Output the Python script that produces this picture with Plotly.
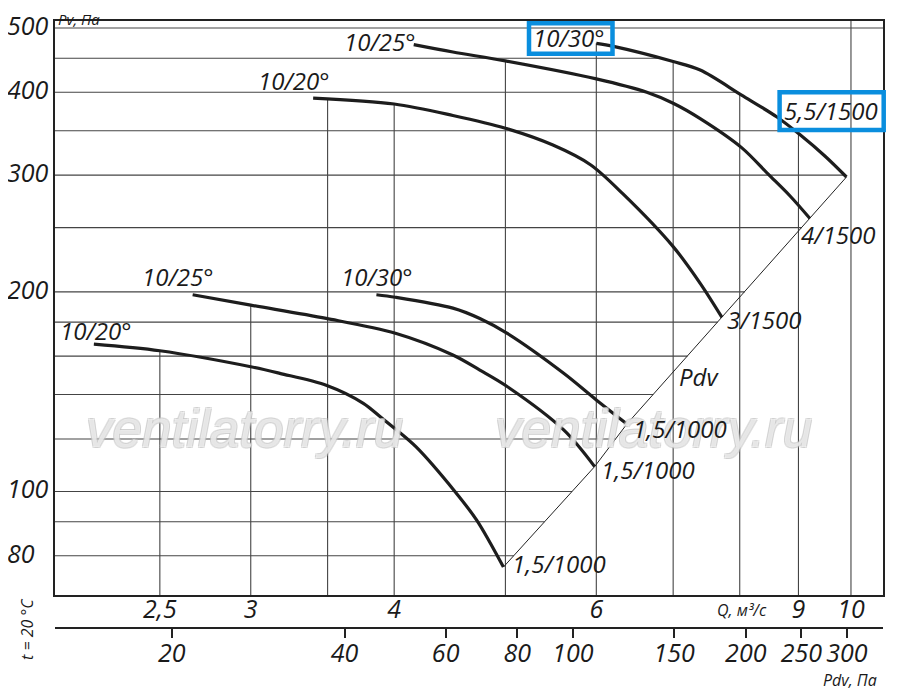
import numpy as np
import plotly.graph_objects as go

# %% Data (Q in m3/s, Pv in Pa)

# upper group, ending on the Pdv line at 3/1500, 4/1500, 5,5/1500
q_20_hi = [3.40, 4.00, 4.50, 5.00, 5.50, 5.93, 6.33, 7.00, 7.39, 7.72]
pv_20_hi = [392, 384, 369, 353, 333, 311, 281, 234, 206, 183]

q_25_hi = [4.16, 4.50, 5.00, 6.00, 6.64, 7.00, 7.39, 8.03, 8.47, 8.85, 9.21]
pv_25_hi = [472, 460, 446, 419, 400, 385, 365, 330, 301, 279, 258]

q_30_hi = [6.00, 6.21, 7.00, 7.39, 8.03, 8.62, 9.03, 9.50, 9.91]
pv_30_hi = [474, 469, 445, 432, 396, 367, 345, 320, 298]

# lower group, all ending on the Pdv line at 1,5/1000
q_20_lo = [2.19, 2.50, 3.00, 3.18, 3.49, 3.76, 3.89, 4.01, 4.18, 4.52, 4.72, 4.98]
pv_20_lo = [166.8, 163, 154.2, 150.7, 144.6, 135.8, 129.6, 124.2, 116.7, 99.9, 90.5, 76.9]

q_25_lo = [2.67, 3.00, 3.49, 4.01, 4.50, 4.75, 5.01, 5.62, 5.98]
pv_25_lo = [198, 191, 182.4, 173.2, 160.6, 152.4, 144.2, 123.8, 109]

q_30_lo = [3.86, 4.01, 4.50, 4.75, 5.01, 5.62, 6.00, 6.38]
pv_30_lo = [198, 196.3, 189, 182.3, 173.4, 150.7, 137.4, 126.4]

# grid and ticks
q_grid = [2.5, 3, 3.5, 4, 5, 6, 7, 8, 9, 10]
pv_grid = [80, 90, 100, 120, 140, 160, 180, 200, 250, 300, 350, 400, 450, 500]
q_ticks = [2.5, 3, 4, 6, 9, 10]
q_ticktext = ["2,5", "3", "4", "6", "9", "10"]
pv_ticks = [80, 100, 200, 300, 400, 500]
pdv_ticks = [20, 40, 60, 80, 100, 150, 200, 250, 300]

# axis ranges (log10)
q_range = [0.3066, 1.0279]
pv_range = [1.8438, 2.7095]
pdv_range = [1.0976, 2.5401]

curves = [(q_20_hi, pv_20_hi), (q_25_hi, pv_25_hi), (q_30_hi, pv_30_hi),
          (q_20_lo, pv_20_lo), (q_25_lo, pv_25_lo), (q_30_lo, pv_30_lo)]

# %% Helpers

# the page puts the figure 8px in from the window corner
OFF = 8
W, H = 900 - OFF, 692 - OFF
L, R, T, B = 55 - OFF, 17, 21 - OFF, 64
PW, PH = W - L - R, H - T - B


def px(x):
    return (x - OFF - L) / PW


def py(y):
    return (H - B - (y - OFF)) / PH


def log_interp(xs, ys, x):
    return 10 ** np.interp(np.log10(x), np.log10(xs), np.log10(ys))


# Pdv line runs through the ends of all curves
ends = sorted((c[0][-1], c[1][-1]) for c in curves)
diag_q = [e[0] for e in ends]
diag_pv = [e[1] for e in ends]


def top_at(q):
    vals = [log_interp(cq, cp, q) for cq, cp in curves if cq[0] <= q <= cq[-1]]
    return max(vals) if vals else 10 ** pv_range[1]


def right_at(p):
    if p > max(pv_30_hi):
        return 10 ** q_range[1]
    if p > diag_pv[-1]:
        return log_interp(pv_30_hi[::-1], q_30_hi[::-1], p)
    return log_interp(diag_pv, diag_q, p)


# %% Figure

fig = go.Figure()

gx, gy = [], []
for q in q_grid:
    gx += [q, q, None]
    gy += [10 ** pv_range[0], top_at(q), None]
for p in pv_grid:
    gx += [10 ** q_range[0], right_at(p), None]
    gy += [p, p, None]
fig.add_trace(go.Scatter(x=gx, y=gy, mode="lines",
                         line=dict(color="#444", width=1.1), hoverinfo="skip"))

fig.add_trace(go.Scatter(x=diag_q, y=diag_pv, mode="lines",
                         line=dict(color="#222", width=1), hoverinfo="skip"))

for cq, cp in curves:
    fig.add_trace(go.Scatter(x=cq, y=cp, mode="lines",
                             line=dict(color="#1d1d1d", width=3.2, shape="spline", smoothing=0.9)))

# keeps the Pdv axis alive
fig.add_trace(go.Scatter(x=pdv_ticks, y=[100] * len(pdv_ticks), xaxis="x2", mode="markers",
                         marker=dict(opacity=0), hoverinfo="skip"))

ital = dict(family="Open Sans", size=25, style="italic", color="#1a1a1a")

fig.update_layout(
    width=W, height=H,
    margin=dict(l=L, r=R, t=T, b=B),
    paper_bgcolor="white", plot_bgcolor="white",
    showlegend=False,
    font=dict(family="Open Sans", color="#1a1a1a"),
    xaxis=dict(type="log", range=q_range, domain=[0, 1], anchor="y",
               showgrid=False, zeroline=False, showline=True, mirror=True,
               linewidth=2, linecolor="#222", ticks="", ticklabelstandoff=-9,
               tickvals=q_ticks, ticktext=q_ticktext, tickfont=ital),
    xaxis2=dict(type="log", range=pdv_range, overlaying="x", anchor="free", position=0,
                side="bottom", showgrid=False, zeroline=False, showline=True,
                linewidth=2, linecolor="#222", ticks="outside", ticklen=9,
                tickwidth=1.5, tickcolor="#222", ticklabelstandoff=-6,
                tickvals=pdv_ticks, ticktext=[str(v) for v in pdv_ticks], tickfont=ital),
    yaxis=dict(type="log", range=pv_range, domain=[33 / PH, 1],
               showgrid=False, zeroline=False, showline=True, mirror=True,
               linewidth=2, linecolor="#222", ticks="", showticklabels=False),
)

ann = []

# watermark first so the labels sit above it
mark = dict(family="Liberation Sans", size=53, style="italic", color="rgba(255,255,255,0.55)",
            shadow="1px 1px 0 #c4c4c4, -1px -1px 0 #c4c4c4, 1px -1px 0 #c4c4c4, -1px 1px 0 #c4c4c4")
for cx in (244, 653):
    ann.append(dict(xref="paper", yref="paper", x=px(cx), y=py(428), text="ventilatorry.ru",
                    showarrow=False, xanchor="center", yanchor="middle", font=mark))

for v in pv_ticks:
    ann.append(dict(xref="paper", yref="y", x=px(5), y=np.log10(v), xanchor="left",
                    yanchor="middle", yshift=3, text=str(v), showarrow=False, font=ital))


def label(text, x, y, size=24, **kw):
    f = dict(ital, size=size)
    d = dict(xref="paper", yref="paper", x=px(x), y=py(y), text=text, showarrow=False,
             xanchor="center", yanchor="middle", font=f)
    d.update(kw)
    ann.append(d)


label("Pv, Па", 57, 19, size=15, xanchor="left", borderpad=0)
label("Q, м³/с", 742, 610, size=16)
label("Pdv, Па", 850, 680, size=16)
label("t = 20 °C", 27, 629, size=16, textangle=-90)

label("10/25°", 380, 42)
label("10/20°", 294, 81)
label("10/30°", 569, 38)
label("5,5/1500", 831, 110)
label("4/1500", 838, 235)
label("3/1500", 764, 319)
label("Pdv", 699, 376)
label("1,5/1000", 680, 428)
label("1,5/1000", 648, 469)
label("1,5/1000", 559, 563)
label("10/25°", 178, 276)
label("10/20°", 96, 331)
label("10/30°", 377, 276)

fig.update_layout(annotations=ann)

# blue highlight boxes
blue = "#0a8ede"
for x0, y0, x1, y1 in [(529, 23.3, 612.5, 53.7), (779.6, 92.3, 883.7, 130)]:
    fig.add_shape(type="rect", xref="paper", yref="paper",
                  x0=px(x0), x1=px(x1), y0=py(y1), y1=py(y0),
                  line=dict(color=blue, width=4.5))

fig.write_html("out.html")
